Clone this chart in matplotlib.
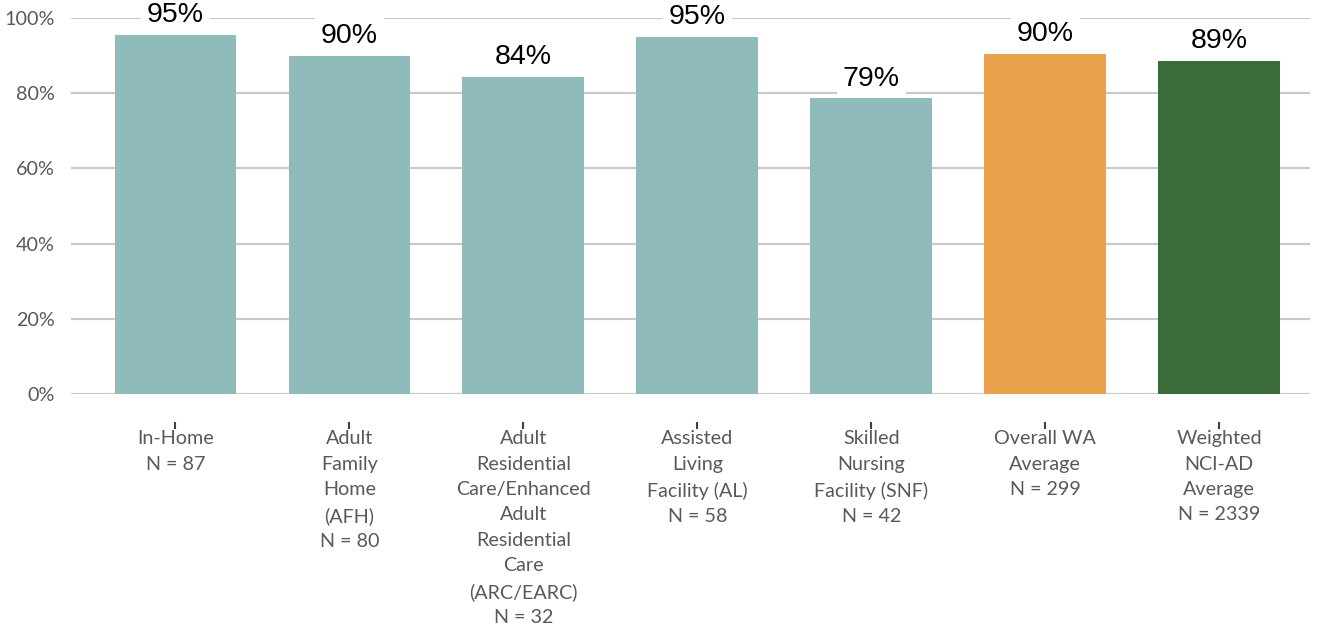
import matplotlib
matplotlib.use("Agg")
import matplotlib.pyplot as plt

categories = [
    "In-Home\nN = 87",
    "Adult\nFamily\nHome\n(AFH)\nN = 80",
    "Adult\nResidential\nCare/Enhanced\nAdult\nResidential\nCare\n(ARC/EARC)\nN = 32",
    "Assisted\nLiving\nFacility (AL)\nN = 58",
    "Skilled\nNursing\nFacility (SNF)\nN = 42",
    "Overall WA\nAverage\nN = 299",
    "Weighted\nNCI-AD\nAverage\nN = 2339",
]
values = [95.4, 89.9, 84.4, 95.0, 78.6, 90.4, 88.6]
bar_colors = ["#8FBCBB", "#8FBCBB", "#8FBCBB", "#8FBCBB", "#8FBCBB", "#EBA24C", "#396B3B"]
yticks = [0, 20, 40, 60, 80, 100]

fig = plt.figure(figsize=(13.23, 6.26), dpi=100)
ax = fig.add_axes([0.0537, 0.3706, 0.9363, 0.6006])

x = list(range(len(categories)))
bars = ax.bar(x, values, width=0.70, color=bar_colors, zorder=3)

ax.set_ylim(0, 100)
ax.set_xlim(-0.6, 6.52)
ax.set_yticks(yticks)
ax.set_yticklabels([f"{v}%" for v in yticks])
ax.yaxis.grid(True, color="#C9C9C9", linewidth=1.6, zorder=0)
ax.set_axisbelow(True)

for s in ["top", "right", "left"]:
    ax.spines[s].set_visible(False)
ax.spines["bottom"].set_position(("outward", 20))
ax.spines["bottom"].set_visible(False)

ax.set_xticks(x)
ax.set_xticklabels(categories, fontsize=14.2, color="#595959",
                   family=["Lato", "DejaVu Sans"], linespacing=1.6)
ax.tick_params(axis="x", direction="out", length=5, width=1.5, color="#404040", pad=1)
ax.tick_params(axis="y", length=0, pad=12, labelsize=14.2, labelcolor="#595959")
for lbl in ax.get_yticklabels():
    lbl.set_family(["Lato", "DejaVu Sans"])

for xi, v in zip(x, values):
    ax.annotate(f"{v:.0f}%", xy=(xi, v), xytext=(0, 5), textcoords="offset points",
                ha="center", va="bottom", fontsize=20.5, color="black",
                family=["Liberation Sans", "DejaVu Sans"],
                bbox=dict(boxstyle="square,pad=0.2", facecolor="white", edgecolor="none"),
                zorder=4, annotation_clip=False)

fig.savefig("out.png", dpi=100)
